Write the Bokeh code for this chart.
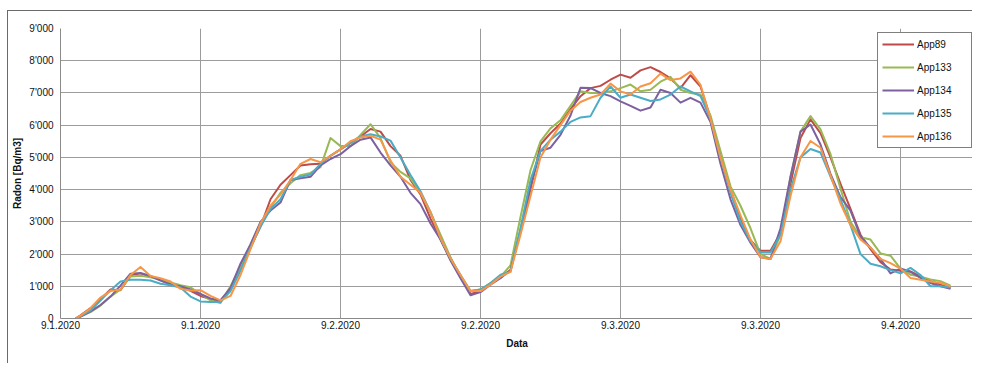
from bokeh.plotting import figure
from bokeh.models import FixedTicker, Legend, LegendItem, Range1d
from bokeh.embed import file_html
from bokeh.resources import INLINE

# sample positions (14 units between two x tick labels)
x = [1.5, 2, 3, 4, 5, 6, 7, 8, 9, 10, 11, 12, 13, 14, 15, 16, 17, 18, 19, 20,
     21, 22, 23, 24, 25, 26, 27, 28, 29, 30, 31, 32, 33, 34, 35, 36, 37, 38, 39, 40,
     41, 42, 43, 44, 45, 46, 47, 48, 49, 50, 51, 52, 53, 54, 55, 56, 57, 58, 59, 60,
     61, 62, 63, 64, 65, 66, 67, 68, 69, 70, 71, 72, 73, 74, 75, 76, 77, 78, 79, 80,
     81, 82, 83, 84, 85, 86, 87, 88, 89]

app89 = [0, 100, 320, 600, 900, 880, 1340, 1400, 1300, 1220,
         1070, 980, 860, 700, 600, 560, 900, 1500, 2200, 2850,
         3700, 4150, 4450, 4750, 4790, 4800, 5050, 5250, 5450, 5650,
         5880, 5800, 5350, 5050, 4300, 3850, 3100, 2450, 1860, 1300,
         760, 850, 1080, 1300, 1500, 2700, 4000, 5400, 5750, 6050,
         6500, 6900, 7150, 7220, 7410, 7570, 7470, 7700, 7800, 7650,
         7450, 7150, 7550, 7200, 6230, 5100, 4000, 3100, 2430, 2100,
         2100, 2650, 4180, 5600, 6180, 5750, 5000, 4180, 3400, 2600,
         2150, 1750, 1520, 1480, 1460, 1310, 1160, 1050, 950]

app133 = [0, 60, 200, 400, 680, 900, 1300, 1330, 1280, 1210,
          1120, 1030, 970, 760, 560, 480, 1000, 1600, 2300, 2950,
          3450, 3900, 4200, 4450, 4520, 4700, 5600, 5350, 5350, 5700,
          6030, 5600, 4850, 4550, 4350, 3900, 3300, 2600, 1900, 1300,
          850, 900, 1100, 1300, 1650, 3150, 4600, 5500, 5900, 6150,
          6600, 7050, 7000, 7000, 7050, 7150, 7260, 7050, 7100, 7350,
          7500, 7100, 7000, 6950, 6300, 5200, 4100, 3500, 2800, 2000,
          1850, 2600, 4400, 5800, 6280, 5870, 5100, 4030, 3000, 2520,
          2450, 2020, 1950, 1550, 1360, 1300, 1210, 1160, 1020]

app134 = [0, 60, 220, 420, 680, 1020, 1390, 1410, 1320, 1180,
          1050, 1000, 900, 760, 620, 560, 950, 1700, 2300, 3000,
          3350, 3600, 4300, 4350, 4400, 4750, 4950, 5100, 5350, 5550,
          5620, 5150, 4750, 4400, 3900, 3550, 2950, 2450, 1800, 1250,
          720, 820, 1050, 1250, 1500, 2750, 4100, 5200, 5300, 5700,
          6300, 7160, 7150, 7000, 6900, 6740, 6600, 6450, 6550, 7100,
          7000, 6700, 6850, 6700, 6100, 4800, 3700, 2900, 2350, 1900,
          1850, 2800, 4400, 5800, 6020, 5400, 4490, 3770, 3350, 2550,
          2200, 1850, 1400, 1550, 1450, 1260, 1100, 1000, 920]

app135 = [0, 70, 250, 560, 880, 1150, 1200, 1200, 1180, 1080,
          1030, 960, 680, 530, 510, 510, 850, 1500, 2200, 2850,
          3400, 3700, 4300, 4400, 4470, 4800, 5050, 5250, 5450, 5650,
          5720, 5650, 5520, 5000, 4450, 3950, 3300, 2500, 1860, 1350,
          850, 900, 1100, 1360, 1450, 2800, 4300, 5200, 5550, 5800,
          6100, 6240, 6280, 6850, 7200, 6850, 6950, 6850, 6750, 6800,
          6950, 7200, 7050, 6900, 6200, 5000, 3900, 3000, 2400, 2050,
          2050, 2600, 4000, 5000, 5260, 5150, 4400, 3700, 2900, 2000,
          1700, 1620, 1500, 1400, 1570, 1350, 1000, 1000, 960]

app136 = [0, 90, 320, 650, 850, 900, 1350, 1600, 1320, 1250,
          1150, 920, 870, 880, 700, 560, 700, 1350, 2150, 2950,
          3500, 3850, 4300, 4800, 4950, 4850, 5050, 5250, 5500, 5620,
          5670, 5550, 4900, 4400, 4150, 3900, 3300, 2500, 1860, 1350,
          850, 850, 1050, 1300, 1450, 2600, 3800, 5000, 5550, 6000,
          6450, 6720, 6850, 6950, 7290, 7050, 6950, 7200, 7300, 7600,
          7400, 7450, 7660, 7250, 6200, 5000, 4000, 3200, 2450, 1900,
          1850, 2400, 3800, 5000, 5510, 5300, 4440, 3570, 2900, 2450,
          2200, 1850, 1720, 1550, 1260, 1200, 1150, 1100, 1000]

series_names = ["App89", "App133", "App134", "App135", "App136"]
series_values = [app89, app133, app134, app135, app136]
series_colors = ["#BE4B48", "#98B954", "#7D60A0", "#4BACC6", "#F79646"]

x_ticks = [0, 14, 28, 42, 56, 70, 84]
x_labels = ["9.1.2020", "9.1.2020", "9.2.2020", "9.2.2020", "9.3.2020", "9.3.2020", "9.4.2020"]
y_ticks = [0, 1000, 2000, 3000, 4000, 5000, 6000, 7000, 8000, 9000]
y_labels = ["0", "1'000", "2'000", "3'000", "4'000", "5'000", "6'000", "7'000", "8'000", "9'000"]

FONT = "Liberation Sans"

p = figure(width=965, height=353, output_backend="svg", toolbar_location=None,
           x_range=Range1d(0, 91.3), y_range=Range1d(0, 9000),
           min_border_left=52, min_border_right=0, min_border_top=17, min_border_bottom=46)
# outer chart frame: only its top and left sides are visible in the picture
p.styles = {"margin-left": "7px", "margin-top": "10px",
            "border-left": "1px solid #6a6a6a", "border-top": "1px solid #6a6a6a"}

p.outline_line_color = None
p.background_fill_color = "white"
p.border_fill_color = "white"

for g in (p.xgrid, p.ygrid):
    g.grid_line_color = "#9c9c9c"
    g.grid_line_width = 1

p.xaxis.ticker = FixedTicker(ticks=x_ticks)
p.xaxis.major_label_overrides = {t: l for t, l in zip(x_ticks, x_labels)}
p.yaxis.ticker = FixedTicker(ticks=y_ticks)
p.yaxis.major_label_overrides = {t: l for t, l in zip(y_ticks, y_labels)}
p.xaxis.axis_label = "Data"
p.yaxis.axis_label = "Radon [Bq/m3]"

for ax in (p.xaxis, p.yaxis):
    ax.axis_line_color = "#8a8a8a"
    ax.major_tick_line_color = None
    ax.minor_tick_line_color = None
    ax.major_tick_out = 0
    ax.major_tick_in = 0
    ax.minor_tick_out = 0
    ax.minor_tick_in = 0
    ax.major_label_text_font = FONT
    ax.major_label_text_font_size = "10px"
    ax.major_label_text_color = "#111111"
    ax.axis_label_text_font = FONT
    ax.axis_label_text_font_size = "10px"
    ax.axis_label_text_font_style = "bold"
    ax.axis_label_text_color = "#111111"
p.xaxis.major_label_standoff = 2
p.xaxis.axis_label_standoff = 6
p.yaxis.major_label_standoff = 7
p.yaxis.axis_label_standoff = 3

items = []
for name, vals, col in zip(series_names, series_values, series_colors):
    r = p.line(x, vals, line_color=col, line_width=2, line_join="round")
    items.append(LegendItem(label=name, renderers=[r]))

legend = Legend(items=items, location=(817, 170), margin=0, padding=4, spacing=9,
                glyph_height=14, glyph_width=32, label_height=14, label_width=50,
                label_standoff=3, border_line_color="black", border_line_width=1,
                background_fill_color="white", background_fill_alpha=1,
                label_text_font=FONT, label_text_font_size="10px", label_text_color="#111111")
p.add_layout(legend)

open("out.html", "w").write(file_html(p, INLINE))
